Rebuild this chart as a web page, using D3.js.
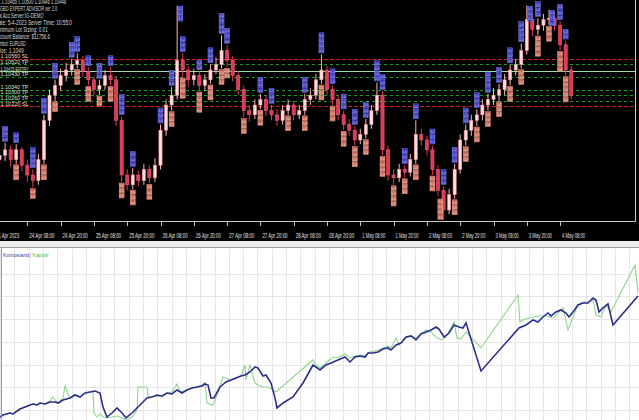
<!DOCTYPE html>
<html><head><meta charset="utf-8">
<script src="https://cdn.jsdelivr.net/npm/d3@7"></script>
<style>html,body{margin:0;padding:0;background:#fff;overflow:hidden}svg{display:block}</style>
</head><body><svg id="c" width="639" height="420"></svg>
<script>
// ---------- price chart data (2h bars, EURUSD) ----------
const firstOpen = 1.0980;
const closes = [1.0984,1.0987,1.0991,1.0984,1.0991,1.0980,1.0973,1.0969,1.0984,1.1012,
1.1030,1.1037,1.1044,1.1048,1.1052,1.1055,1.1047,1.1041,1.1034,1.1037,
1.1044,1.1041,1.1012,1.0973,1.0966,1.0973,1.0969,1.0977,1.0971,1.0980,
1.1005,1.1023,1.1030,1.1055,1.1048,1.1041,1.1044,1.1037,1.1041,1.1048,
1.1052,1.1062,1.1055,1.1044,1.1034,1.1019,1.1016,1.1023,1.1027,1.1019,
1.1016,1.1012,1.1019,1.1023,1.1016,1.1019,1.1027,1.1030,1.1041,1.1048,
1.1034,1.1027,1.1016,1.1009,1.1005,1.0998,1.1002,1.1009,1.1019,1.1030,
1.0991,1.0973,1.0971,1.0977,1.0975,1.0984,1.1002,1.0998,1.0991,1.0977,
1.0962,1.0948,1.0959,1.0977,1.0998,1.1005,1.1012,1.1016,1.1023,1.1027,
1.1030,1.1034,1.1041,1.1048,1.1052,1.1062,1.1084,1.1077,1.1080,1.1084,
1.1085,1.1080,1.1066,1.1048,1.1030];
const highs = [1.0990,1.0992,1.0996,1.0994,1.0995,1.0993,1.0984,1.0977,1.0988,1.1016,
1.1034,1.1041,1.1049,1.1053,1.1056,1.1060,1.1058,1.1050,1.1044,1.1041,
1.1048,1.1050,1.1044,1.1015,1.0977,1.0978,1.0976,1.0981,1.0980,1.0985,
1.1009,1.1027,1.1036,1.1094,1.1060,1.1051,1.1049,1.1047,1.1045,1.1052,
1.1057,1.1073,1.1066,1.1058,1.1047,1.1037,1.1023,1.1027,1.1031,1.1030,
1.1023,1.1020,1.1023,1.1027,1.1026,1.1023,1.1031,1.1035,1.1045,1.1059,
1.1051,1.1037,1.1030,1.1019,1.1013,1.1008,1.1006,1.1013,1.1023,1.1039,
1.1033,1.0994,1.0977,1.0981,1.0980,1.0988,1.1012,1.1006,1.1001,1.0994,
1.0980,1.0965,1.0963,1.0981,1.1002,1.1009,1.1016,1.1020,1.1027,1.1031,
1.1035,1.1038,1.1045,1.1052,1.1056,1.1067,1.1094,1.1088,1.1085,1.1088,
1.1091,1.1088,1.1083,1.1069,1.1051];
const lows = [1.0976,1.0980,1.0983,1.0979,1.0981,1.0976,1.0968,1.0964,1.0966,1.0981,
1.1008,1.1026,1.1033,1.1040,1.1044,1.1049,1.1043,1.1037,1.1029,1.1030,
1.1034,1.1037,1.1008,1.0968,1.0962,1.0963,1.0965,1.0966,1.0967,1.0968,
1.0977,1.1001,1.1019,1.1027,1.1043,1.1036,1.1037,1.1033,1.1033,1.1038,
1.1045,1.1049,1.1050,1.1040,1.1030,1.1014,1.1011,1.1013,1.1020,1.1015,
1.1012,1.1008,1.1009,1.1016,1.1012,1.1013,1.1016,1.1023,1.1027,1.1038,
1.1030,1.1023,1.1012,1.1005,1.1001,1.0994,1.0995,1.0999,1.1006,1.1016,
1.0987,1.0969,1.0966,1.0968,1.0971,1.0972,1.0981,1.0994,1.0987,1.0973,
1.0958,1.0941,1.0945,1.0956,1.0974,1.0994,1.1001,1.1008,1.1012,1.1019,
1.1023,1.1026,1.1030,1.1037,1.1044,1.1049,1.1059,1.1072,1.1073,1.1076,
1.1080,1.1076,1.1062,1.1044,1.1027];
const timeLabels = ["21 Apr 2023","24 Apr 08:00","24 Apr 20:00","25 Apr 08:00","25 Apr 20:00",
"26 Apr 08:00","26 Apr 20:00","27 Apr 08:00","27 Apr 20:00","28 Apr 08:00","28 Apr 20:00",
"1 May 08:00","1 May 20:00","2 May 08:00","2 May 20:00","3 May 08:00","3 May 20:00","4 May 08:00"];
const levelPrices = [1.1056,1.1052,1.1047,1.1043,1.1034,1.1030,1.1026,1.1022];
const levelKinds  = ["sl","tp","entry","tp","tp","tp","tp","sl"];
// trade-label stacks: [bar, blue rows (above high), orange rows (below low)]
const marks = [[2,3,0],[4,2,3],[7,4,2],[9,3,3],[11,3,2],[14,3,0],[15,3,3],[17,2,3],[19,3,2],[21,2,3],
[23,4,3],[25,3,3],[28,0,3],[30,3,0],[32,3,3],[33,3,0],[34,3,4],[37,2,4],[39,3,3],[41,4,3],[42,3,2],
[45,0,3],[48,3,3],[50,3,0],[53,0,3],[56,3,3],[59,4,3],[61,3,3],[63,3,3],[65,3,4],[67,3,3],[69,4,0],
[70,3,4],[72,0,4],[74,3,3],[76,3,3],[79,3,3],[81,3,4],[83,3,3],[85,3,3],[87,3,3],[89,4,3],[91,3,3],
[93,3,3],[95,4,3],[96,3,0],[98,3,4],[100,3,3],[102,3,4],[103,2,5]];
const infoLines = ["EURUSD,H1 1.10465 1.10500 1.10446 1.10448","GBD EXPERT ADVISOR ver 2.0",
"Real Acc Server:IG-DEMO","Date: 5-4-2023 Server Time: 10:55:0","Minimum Lot Sizing: 0.01",
"Account Balance: $11756.6","Symbol: EURUSD","Price: 1.1049"];
const infoShift = [-24,0,-7,-5,-5,-5,-5,-5];

// ---------- balance / equity data ----------
const balance = [[0,10000],[1.2,10029],[4,10058],[5.2,10044],[8,10116],[10,10145],[12,10174],[13.2,10189],[14.8,10174],[16,10203],[18,10189],[20,10218],[22,10218],[23.2,10203],[25.2,10247],[28,10276],[30,10319],[32,10290],[34,10348],[36,10363],[38,10377],[40,10348],[41.2,10145],[42.8,10000],[44.8,10058],[46.8,10131],[48.8,10058],[50.4,9986],[52.8,10058],[54.8,10131],[56.8,10203],[58.8,10276],[60.8,10290],[62.8,10319],[64.8,10305],[66.8,10348],[68.8,10334],[70.8,10392],[72.8,10348],[74.8,10392],[76.8,10421],[78.8,10435],[80.8,10450],[82,10479],[83.2,10464],[84.4,10276],[85.6,10276],[88,10435],[90.4,10508],[92.4,10537],[94.4,10566],[96.4,10595],[98,10609],[100,10653],[102,10725],[103.2,10711],[105.2,10595],[106.4,10609],[108.4,10493],[110,10276],[110.8,10131],[113.2,10203],[117.2,10290],[121.2,10493],[125.2,10754],[128,10682],[130.4,10754],[132.4,10783],[135.2,10827],[138,10870],[140,10798],[142,10870],[144,10885],[146,10870],[147.2,10928],[149.2,10928],[151.2,10943],[153.2,10986],[155.2,11001],[156.4,10972],[158.4,11044],[160.4,11073],[162.4,11160],[164.4,11175],[166.4,11117],[168.4,11204],[170.4,11233],[172.4,11262],[174.4,11305],[175.6,11276],[177.6,11160],[179.6,11218],[181.6,11334],[183.6,11305],[185.2,11291],[186.4,11363],[192.4,10667],[207.6,11291],[210.4,11334],[213.2,11407],[215.2,11378],[217.2,11450],[219.2,11508],[220.4,11465],[222.4,11523],[224.4,11552],[226.4,11508],[227.6,11450],[229.2,11523],[231.2,11624],[233.2,11653],[235.2,11653],[237.2,11726],[238.4,11697],[239.6,11523],[241.2,11581],[243.2,11639],[245.2,11334],[255.2,11755]];
const equity = [[0,10000],[1.2,10029],[4,10058],[5.2,10044],[8,10116],[10,10145],[12,10174],[13.2,10189],[14.8,10174],[16,10203],[18,10189],[20,10232],[21.2,10290],[22,10247],[23.2,10203],[25.2,10276],[26,10450],[27.2,10334],[28,10276],[30,10334],[32,10290],[34,10348],[36,10363],[37.2,10363],[37.6,10058],[38.8,10000],[40,10044],[41.2,10000],[42.8,9986],[44.8,10000],[46.8,10015],[48.8,9986],[50.4,9957],[52.8,10000],[54.8,10102],[55.2,10435],[58.8,10435],[59.2,10290],[60.8,10290],[62.8,10305],[64.8,10290],[66.8,10348],[68.8,10363],[70.8,10479],[72,10363],[74.8,10392],[76.8,10421],[78.8,10435],[80.8,10464],[82,10508],[82.8,10203],[85.2,10174],[86.8,10319],[89.2,10580],[92,10537],[94.4,10566],[96.4,10595],[98,10754],[98.4,10537],[100,10754],[102,10493],[103.2,10464],[105.2,10435],[107.2,10435],[110.4,10363],[125.2,10827],[126.4,10754],[128,10711],[130.4,10783],[133.2,10870],[135.2,10856],[138,10914],[140,10856],[142,10885],[144,10899],[146,10885],[148,10943],[151.2,10972],[153.2,11001],[155.2,11030],[156.4,11001],[158.4,11146],[159.6,11044],[162.4,11146],[164.4,11175],[166.4,11146],[168.4,11204],[170.4,11262],[172.4,11233],[174.4,11160],[176.4,11117],[178.4,11160],[181.6,11378],[182.8,11146],[184.4,11131],[186.4,11233],[192.4,11001],[207.2,11769],[208,11378],[209.2,11407],[211.6,11436],[215.6,11465],[218.4,11465],[221.2,11436],[223.6,11523],[225.2,11581],[227.2,11262],[229.2,11450],[231.2,11624],[233.2,11668],[235.2,11668],[237.2,11697],[238.4,11479],[240.4,11450],[242.4,11624],[244.4,11523],[254,12204],[255.2,11798]];
const gridValues = [10100,10430,10760,11090,11420,11750,12080];
const legendLabels = ["Kontostand","Kapital"];

// ---------- drawing ----------
const svg = d3.select("#c");
const W = 639;
const FONT = "Liberation Sans, Arial, sans-serif";
const PH = 221; // plot height

// top panel
svg.append("rect").attr("x",0).attr("y",0).attr("width",W).attr("height",241).attr("fill","#000");
const clip = svg.append("defs").append("clipPath").attr("id","pc");
clip.append("rect").attr("x",0).attr("y",0).attr("width",635).attr("height",PH);
const plot = svg.append("g").attr("clip-path","url(#pc)");

const xT = d3.scaleLinear().domain([0,115]).range([-6, 632.25]);
const yT = d3.scaleLinear().domain([1.0938,1.1098]).range([224,0]);

// level lines
const lvlStyle = {sl:{c:"#d42020",d:"4,2"}, tp:{c:"#1f9a2a",d:"3,3"}, entry:{c:"#a8d8a8",d:null}};
levelPrices.forEach((p,k)=>{
  const s = lvlStyle[levelKinds[k]];
  const ln = plot.append("line").attr("x1",0).attr("x2",635).attr("y1",Math.round(yT(p))+0.5).attr("y2",Math.round(yT(p))+0.5)
    .attr("stroke",s.c).attr("stroke-width",1);
  if (s.d) ln.attr("stroke-dasharray",s.d);
});

// candles
const opens = closes.map((c,i)=> i===0 ? firstOpen : closes[i-1]);
closes.forEach((c,i)=>{
  const o = opens[i], bull = c >= o;
  const col = bull ? "#ffdcdc" : "#e0385a";
  const x = xT(i);
  plot.append("line").attr("x1",x).attr("x2",x).attr("y1",yT(highs[i])).attr("y2",yT(lows[i]))
    .attr("stroke", bull ? "#ffb0b8" : "#e0385a").attr("stroke-width",1);
  const y0 = yT(Math.max(o,c)), y1 = yT(Math.min(o,c));
  plot.append("rect").attr("x",x-1.6).attr("y",y0).attr("width",3.2).attr("height",Math.max(1,y1-y0))
    .attr("fill",col).attr("stroke", bull ? "#ff8a9a" : "#ff6080").attr("stroke-width",0.5);
});

// trade label stacks
const RH = 5.2;
function tag(x, yy, blue){
  plot.append("rect").attr("x",x-2.5).attr("y",yy).attr("width",5).attr("height",RH-0.6)
    .attr("fill", blue ? "#3232b8" : "#c8604e").attr("stroke", blue ? "#8c8cff" : "#ffb09a").attr("stroke-width",0.4);
  plot.append("text").attr("x",x-2.1).attr("y",yy+3.9).text("0.0")
    .attr("font-family",FONT).attr("font-size",4.4).attr("fill", blue ? "#dcdcff" : "#fff0e8")
    .attr("textLength",4.2).attr("lengthAdjust","spacingAndGlyphs");
}
marks.forEach(([i,b,o])=>{
  const x = xT(i);
  const hy = yT(highs[i]), ly = yT(lows[i]);
  const upFits = hy - 1 - b*RH >= 0.5;
  for (let r=0;r<b;r++){
    if (upFits) tag(x, hy - 1 - (r+1)*RH, true);
    else tag(x + 3.2, hy + 0.5 + r*RH, true);
  }
  const downFits = ly + 1 + o*RH <= PH - 1;
  for (let r=0;r<o;r++){
    if (downFits) tag(x, ly + 1 + r*RH, false);
    else tag(x - 3.2, ly - (r+1)*RH, false);
  }
});

// level labels on the left
levelPrices.forEach((p,k)=>{
  plot.append("text").attr("x",0.5).attr("y",yT(p)-0.8).text(d3.format(".5f")(p)+" "+levelKinds[k].toUpperCase())
    .attr("font-family",FONT).attr("font-size",5.5).attr("fill",levelKinds[k]==="sl"?"#ffd0d0":"#cfe8cf")
    .attr("textLength",28).attr("lengthAdjust","spacingAndGlyphs");
});

// info text
infoLines.forEach((t,k)=>{
  plot.append("text").attr("x",infoShift[k]).attr("y",4+k*7).text(t)
    .attr("font-family",FONT).attr("font-size",6.3).attr("fill","#d8d8d8")
    .attr("textLength",t.length*2.2).attr("lengthAdjust","spacingAndGlyphs");
});

// plot border
svg.append("line").attr("x1",635.5).attr("x2",635.5).attr("y1",0).attr("y2",PH+0.5).attr("stroke","#c8c8c8");
svg.append("line").attr("x1",0).attr("x2",635.5).attr("y1",PH+0.5).attr("y2",PH+0.5).attr("stroke","#c8c8c8");

// time axis
timeLabels.forEach((t,k)=>{
  const x = xT(k*6);
  svg.append("line").attr("x1",Math.round(x)+0.5).attr("x2",Math.round(x)+0.5).attr("y1",222).attr("y2",226).attr("stroke","#c8c8c8");
  svg.append("text").attr("x",x+2).attr("y",237.5).text(t)
    .attr("font-family",FONT).attr("font-size",6.3).attr("fill","#e0e0e0")
    .attr("textLength",t.length*2.1).attr("lengthAdjust","spacingAndGlyphs");
});

// separator
svg.append("rect").attr("x",0).attr("y",241).attr("width",W).attr("height",6).attr("fill","#ececec");
svg.append("line").attr("x1",0).attr("x2",W).attr("y1",247.5).attr("y2",247.5).attr("stroke","#9a9a9a");

// bottom panel
svg.append("rect").attr("x",0).attr("y",248).attr("width",W).attr("height",172).attr("fill","#fff");
const xB = d3.scaleLinear().domain([0,255.6]).range([0,639]);
const yB = d3.scaleLinear().domain([10000,12421.5]).range([417,250]);
const gB = svg.append("g");
d3.range(0,256,5.72).forEach(t=>{
  const x = Math.round(xB(t))+0.5;
  gB.append("line").attr("x1",x).attr("x2",x).attr("y1",249).attr("y2",420).attr("stroke","#e6e6e6");
});
gridValues.forEach(v=>{
  const y = Math.round(yB(v))+0.5;
  gB.append("line").attr("x1",2).attr("x2",W).attr("y1",y).attr("y2",y).attr("stroke","#e6e6e6");
});
svg.append("line").attr("x1",1.5).attr("x2",1.5).attr("y1",248).attr("y2",420).attr("stroke","#9a9a9a");

const line = d3.line().x(d=>xB(d[0])).y(d=>yB(d[1]));
gB.append("path").datum(equity).attr("d",line).attr("fill","none").attr("stroke","#8fd48f").attr("stroke-width",1.1);
gB.append("path").datum(balance).attr("d",line).attr("fill","none").attr("stroke","#2d2d8f").attr("stroke-width",1.6);

// legend
svg.append("text").attr("x",3).attr("y",257).text(legendLabels[0])
  .attr("font-family",FONT).attr("font-size",5.2).attr("fill","#3a3aa0");
svg.append("text").attr("x",30).attr("y",257).text("|")
  .attr("font-family",FONT).attr("font-size",5.2).attr("fill","#888");
svg.append("text").attr("x",32.5).attr("y",257).text(legendLabels[1])
  .attr("font-family",FONT).attr("font-size",5.2).attr("fill","#4cbf4c");
</script></body></html>
